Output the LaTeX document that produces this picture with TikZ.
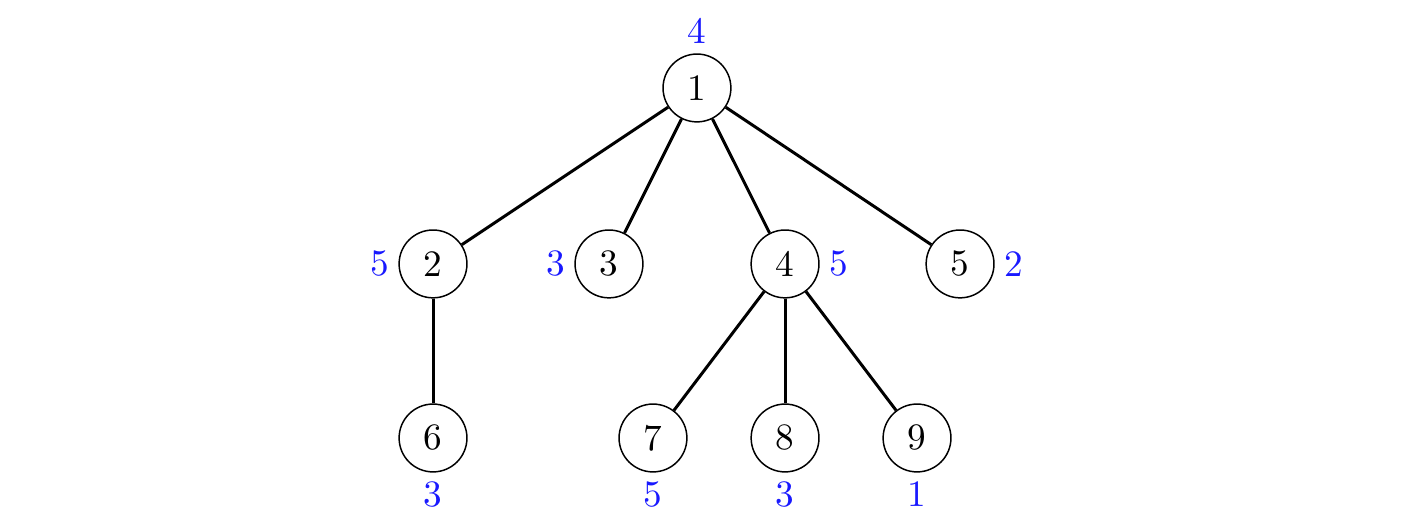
\documentclass[tikz,border=0pt]{standalone}
\usepackage{xcolor}
\usepackage{tikz}
\tikzset{
  vertice/.style={draw, circle, minimum size=0.64cm, inner sep=0pt},
  aresta/.style={thick},
  rotulo/.style={text=blue!90!white},
  label distance=-1pt,
}
\begin{document}
\begin{tikzpicture}
  \useasboundingbox (0,0) rectangle (13.377,4.981);
  % raiz
  \node[vertice, label={[rotulo]above:4}] (v1) at (6.575,4.151) {1};
  % segundo nivel
  \node[vertice, label={[rotulo]left:5}] (v2) at (4.085,2.491) {2};
  \node[vertice, label={[rotulo]left:3}] (v3) at (5.745,2.491) {3};
  \node[vertice, label={[rotulo]right:5}] (v4) at (7.406,2.491) {4};
  \node[vertice, label={[rotulo]right:2}] (v5) at (9.057,2.491) {5};
  % terceiro nivel
  \node[vertice, label={[rotulo]below:3}] (v6) at (4.085,0.849) {6};
  \node[vertice, label={[rotulo]below:5}] (v7) at (6.160,0.849) {7};
  \node[vertice, label={[rotulo]below:3}] (v8) at (7.406,0.849) {8};
  \node[vertice, label={[rotulo]below:1}] (v9) at (8.651,0.849) {9};
  % arestas
  \foreach \f in {v2,v3,v4,v5} \draw[aresta] (v1) -- (\f);
  \draw[aresta] (v2) -- (v6);
  \foreach \f in {v7,v8,v9} \draw[aresta] (v4) -- (\f);
\end{tikzpicture}
\end{document}
